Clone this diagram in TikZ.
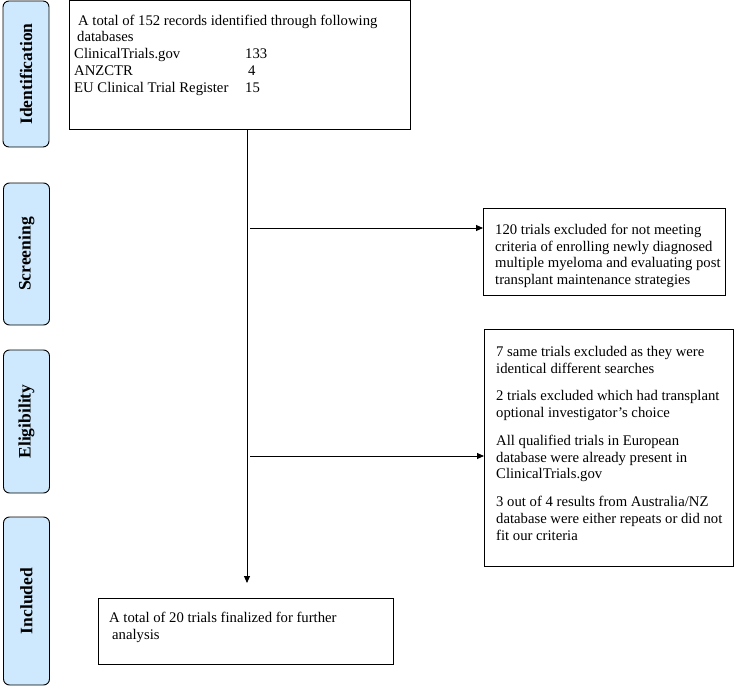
\documentclass[tikz,border=0pt]{standalone}
\usepackage{fontspec}
\setmainfont{Liberation Serif}
\usetikzlibrary{arrows.meta}
\definecolor{stagefill}{RGB}{206,233,253}
\begin{document}
\begin{tikzpicture}[x=1pt,y=-1pt,
  stage/.style={draw, fill=stagefill, rounded corners=6pt, line width=0.9pt, inner sep=0pt, rotate=90, minimum height=46pt, font=\fontsize{17.5}{19}\selectfont\bfseries},
  box/.style={draw, line width=1pt, inner sep=0pt, outer sep=0pt, anchor=north west},
  ln/.style={anchor=base west, inner sep=0pt, font=\fontsize{14.7}{17}\selectfont},
  flow/.style={line width=0.9pt, -{Triangle[length=7pt,width=6pt]}}
]
\useasboundingbox (0,0) rectangle (738,687);
% stage labels
\node[stage, minimum width=146pt] (sid) at (26,74) {Identification};
\node[stage, minimum width=142pt] (sscr) at (26.5,254) {Screening};
\node[stage, minimum width=143pt] (selig) at (26.5,421.5) {Eligibility};
\node[stage, minimum width=168pt] (sinc) at (26.5,601) {Included};
% boxes
\node[box, minimum width=341pt, minimum height=129pt] (recs) at (69,1) {};
\node[box, minimum width=242pt, minimum height=87pt] (excl) at (483,208) {};
\node[box, minimum width=249pt, minimum height=237pt] (elig) at (484,329) {};
\node[box, minimum width=295pt, minimum height=66pt] (incl) at (98,598) {};
% texts box 1
\node[ln] (r1) at (78,25.5) {A total of 152 records identified through following};
\node[ln] (r2) at (77,42) {databases};
\node[ln] (r3) at (74,58.5) {\makebox[171pt][l]{ClinicalTrials.gov}133};
\node[ln] (r4) at (74,75.5) {\makebox[174pt][l]{ANZCTR}4};
\node[ln] (r5) at (74,92.5) {\makebox[171pt][l]{EU Clinical Trial Register}15};
% texts box 2
\node[ln] (e1) at (495,234.5) {120 trials excluded for not meeting};
\node[ln] (e2) at (495,251) {criteria of enrolling newly diagnosed};
\node[ln] (e3) at (495,267.5) {multiple myeloma and evaluating post};
\node[ln] (e4) at (495,284) {transplant maintenance strategies};
% texts box 3
\node[ln] (g1) at (496,356.5) {7 same trials excluded as they were};
\node[ln] (g2) at (496,373.5) {identical different searches};
\node[ln] (g3) at (496,400.5) {2 trials excluded which had transplant};
\node[ln] (g4) at (496,417.5) {optional investigator’s choice};
\node[ln] (g5) at (496,445.5) {All qualified trials in European};
\node[ln] (g6) at (496,462) {database were already present in};
\node[ln] (g7) at (496,478.5) {ClinicalTrials.gov};
\node[ln] (g8) at (496,506.5) {3 out of 4 results from Australia/NZ};
\node[ln] (g9) at (496,523.5) {database were either repeats or did not};
\node[ln] (g10) at (496,540.5) {fit our criteria};
% texts box 4
\node[ln] (i1) at (109,622.5) {A total of 20 trials finalized for further};
\node[ln] (i2) at (112,639) {analysis};
% connectors
\coordinate (downend) at (247,583);
\coordinate (s1) at (250,228);
\coordinate (s2) at (250,456);
\draw[flow] (recs.south -| downend) -- (downend);
\draw[flow] (s1) -- (s1 -| excl.west);
\draw[flow] (s2) -- (s2 -| elig.west);
\end{tikzpicture}
\end{document}
